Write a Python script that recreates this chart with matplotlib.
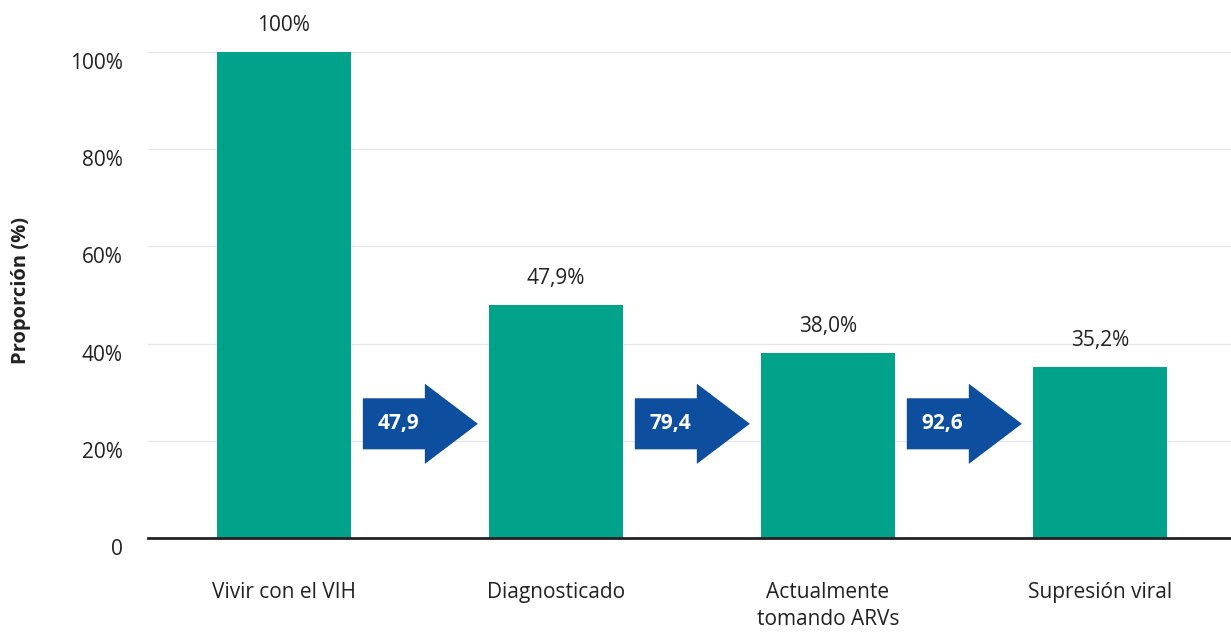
import matplotlib.pyplot as plt
import matplotlib.transforms as mtransforms
from matplotlib.patches import FancyArrow

categories = ["Vivir con el VIH", "Diagnosticado", "Actualmente\ntomando ARVs", "Supresión viral"]
values = [100, 47.9, 38.0, 35.2]
value_labels = ["100%", "47,9%", "38,0%", "35,2%"]
step_labels = ["47,9", "79,4", "92,6"]
yticks = [0, 20, 40, 60, 80, 100]
ytick_labels = ["0", "20%", "40%", "60%", "80%", "100%"]

GREEN = "#00A38A"
BLUE = "#0D4E9E"
TEXT = "#222222"

plt.rcParams['font.family'] = ['Open Sans', 'DejaVu Sans']

fig = plt.figure(figsize=(12.31, 6.33), dpi=100)
ax = fig.add_axes([0.1202, 0.150, 0.8798, 0.768])

x = list(range(len(categories)))
ax.bar(x, values, width=0.49, color=GREEN, zorder=3)

for xi, v, lab in zip(x, values, value_labels):
    ax.text(xi, v + 5.5, lab, ha="center", va="center", fontsize=15,
            color=TEXT, clip_on=False)

# arrows between bars
for i, lab in enumerate(step_labels):
    x0 = x[i] + 0.29
    arr = FancyArrow(x0, 23.5, 0.423, 0, width=10.5, head_width=16.5,
                     head_length=0.195, length_includes_head=True,
                     color=BLUE, zorder=4, linewidth=0)
    ax.add_patch(arr)
    ax.text(x0 + 0.13, 23.5, lab, ha="center", va="center", fontsize=15,
            fontweight="bold", color="white", zorder=5)

ax.set_xlim(-0.5, 3.482)
ax.set_ylim(0, 100)
ax.set_yticks(yticks)
ax.set_yticklabels(ytick_labels, fontsize=15, color=TEXT)
ax.set_xticks(x)
ax.set_xticklabels(categories, fontsize=15, color=TEXT, linespacing=1.35)
ax.tick_params(axis="y", length=0, pad=18)
ax.tick_params(axis="x", length=0, pad=32)

# y tick labels sit a little below their gridlines
offset = mtransforms.ScaledTranslation(0, -9 / 100, fig.dpi_scale_trans)
for lbl in ax.get_yticklabels():
    lbl.set_transform(lbl.get_transform() + offset)

ax.grid(axis="y", color="#e6e6e6", linewidth=1, zorder=0)
for s in ["top", "right", "left"]:
    ax.spines[s].set_visible(False)
ax.spines["bottom"].set_color(TEXT)
ax.spines["bottom"].set_linewidth(2)
ax.spines["bottom"].set_zorder(6)

ax.set_ylabel("Proporción (%)", fontsize=14.5, fontweight="bold", color=TEXT)
ax.yaxis.set_label_coords(-0.108, 0.51)

fig.savefig("out.png", dpi=100)
